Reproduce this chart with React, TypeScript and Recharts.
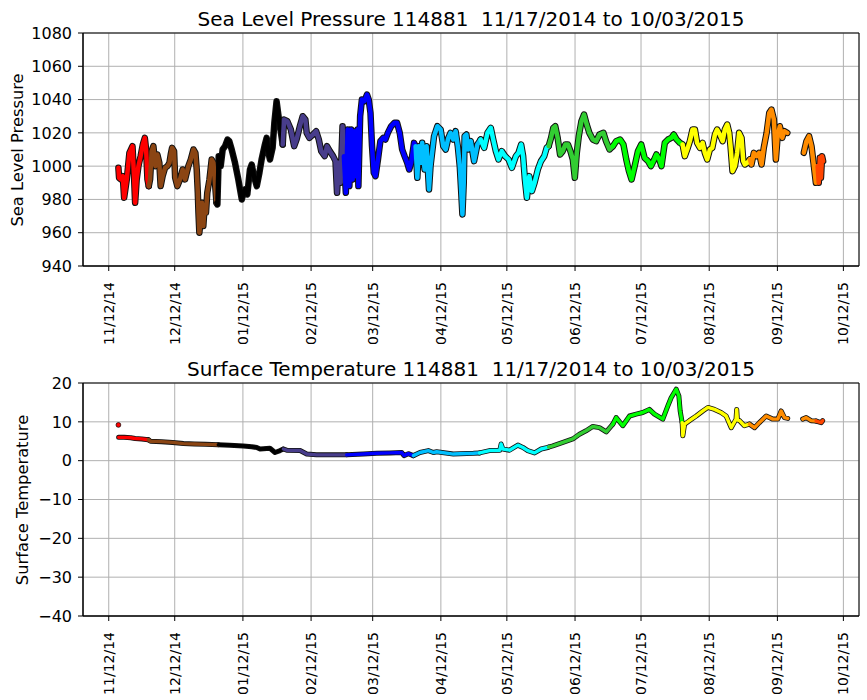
import React from "react";
import { CartesianGrid, ComposedChart, Line, ReferenceArea, Scatter, XAxis, YAxis } from "recharts";

type Pt = [number, number];

// x values are days counted from 11/01/2014
const tickDays = [11, 41, 72, 103, 131, 162, 192, 223, 253, 284, 315, 345];
const tickLabels = ["11/12/14", "12/12/14", "01/12/15", "02/12/15", "03/12/15", "04/12/15", "05/12/15", "06/12/15", "07/12/15", "08/12/15", "09/12/15", "10/12/15"];
const slpTicks = [940, 960, 980, 1000, 1020, 1040, 1060, 1080];
const tmpTicks = [-40, -30, -20, -10, 0, 10, 20];

const colors = ["#ff0000", "#8b4513", "#000000", "#483d8b", "#0000ff", "#00bfff", "#00ffff", "#32cd32", "#00ff00", "#ffff00", "#ff8c00", "#ff8c00", "#ff4500"];

// sea level pressure, hPa
const slpRed: Pt[] = [[15.4, 999], [15.7, 993], [16.5, 992], [17.4, 994], [18, 981], [19.2, 992], [20.4, 1008], [21.8, 1012], [22.5, 994], [23, 978], [23.7, 992], [24.5, 1000], [25.5, 1006], [26.5, 1013], [27.4, 1017], [28, 1010], [28.6, 992], [29.2, 988]];
const slpBrown: Pt[] = [[29.2, 988], [29.8, 992], [30.5, 1009], [31.3, 1012], [32.2, 1000], [33.1, 1007], [34, 1002], [34.6, 988], [35.5, 994], [36.6, 999], [37.7, 1000], [38.6, 1002], [39.2, 1007], [39.8, 1011], [40.7, 1009], [41.2, 993], [42.2, 988], [43.4, 992], [44.6, 998], [45.7, 992], [47.2, 1000], [48.3, 1004], [49.5, 1010], [50.4, 1008], [51, 998], [51.5, 984], [51.8, 972], [52.2, 960], [52.8, 968], [53.4, 978], [54, 964], [54.6, 976], [55.2, 972], [55.8, 984], [56.8, 992], [57.8, 1004], [58.6, 1002], [59.3, 990], [60, 978]];
const slpBlack: Pt[] = [[60, 978], [60.4, 977], [61, 1006], [61.9, 1000], [62.8, 1010], [63.9, 1012], [65, 1016], [65.8, 1015], [66.9, 1010], [68.4, 1002], [69.9, 992], [71.5, 980], [72.2, 984], [73, 986], [74, 983], [75.2, 998], [76, 1001], [77, 994], [78.3, 988], [79.5, 996], [80.5, 1004], [82, 1013], [82.8, 1017], [83.6, 1008], [84.3, 1004], [85.5, 1011], [86.3, 1026], [87.3, 1039], [88, 1032], [88.6, 1026], [89.3, 1020], [90.1, 1013]];
const slpSlate: Pt[] = [[90.1, 1013], [90.7, 1028], [92.2, 1027], [93.8, 1022], [95.3, 1012], [96.4, 1016], [97.9, 1024], [99.2, 1030], [100.4, 1028], [101, 1020], [102.2, 1017], [103.8, 1019], [105.3, 1021], [106.5, 1016], [107.6, 1009], [109.2, 1006], [110.2, 1012], [111.5, 1009], [113, 1006], [114.1, 1003], [114.8, 984], [115.5, 1002], [116.4, 990], [117.3, 1024], [117.9, 1006]];
const slpBlue: Pt[] = [[117.9, 1006], [118.8, 984], [119.6, 1022], [120.4, 988], [121.2, 1022], [121.9, 992], [122.5, 1021], [123.3, 994], [124.1, 1022], [124.5, 988], [125.3, 1030], [126.1, 1040], [127.2, 1039], [128.4, 1043], [129.2, 1040], [130, 1032], [130.7, 1012], [131.5, 996], [132.3, 994], [133.4, 1004], [134.5, 1015], [135.8, 1017], [136.8, 1016], [137.9, 1020], [139.4, 1024], [140.9, 1026], [142.1, 1026], [143.3, 1020], [144.4, 1010], [145.5, 1006], [146.7, 1002], [147.6, 998], [148.5, 1002], [149.8, 1014], [150.5, 1012]];
const slpDeepSky: Pt[] = [[150.5, 1012], [151.3, 993], [152, 1012], [152.8, 1002], [153.5, 1014], [154.6, 998], [155.5, 1012], [156.6, 986], [157.3, 1000], [158.9, 1018], [160.4, 1024], [161.9, 1022], [163.1, 1012], [164.2, 1010], [165.4, 1017], [166.4, 1020], [167.6, 1016], [168.7, 1021], [169.7, 1012], [170.6, 1000], [171.2, 986], [171.8, 971], [172.4, 990], [172.8, 1018], [173.6, 1019], [174.4, 1010], [175.6, 1015], [177.1, 1003], [178.6, 1013], [180.1, 1016]];
const slpCyan: Pt[] = [[180.1, 1016], [181.7, 1011], [183.2, 1020], [184.7, 1023], [185.8, 1016], [187, 1009], [188.2, 1004], [189.7, 1009], [191.2, 1006], [192.8, 1004], [194.3, 999], [196.1, 1006], [197.3, 1008], [198.5, 1013], [199.4, 1006], [200.2, 992], [201.1, 981], [202.2, 994], [203.4, 985], [204.6, 990], [206.1, 998], [207.5, 1003], [209, 1006], [210.1, 1011], [211, 1012]];
const slpLimeGreen: Pt[] = [[211, 1012], [212.1, 1017], [213.1, 1023], [214, 1024], [215.1, 1017], [216.2, 1007], [217.4, 1009], [218.6, 1013], [219.8, 1013], [220.9, 1009], [222, 1004], [222.9, 993], [223.8, 1008], [224.7, 1018], [225.9, 1027], [227.1, 1031], [228.3, 1025], [229.5, 1020], [231.1, 1016], [232.6, 1015], [234.1, 1019], [235.9, 1020], [237.1, 1015], [238.7, 1010], [240.2, 1012]];
const slpLime: Pt[] = [[240.2, 1012], [241.7, 1015], [243.5, 1016], [245, 1013], [246.3, 1004], [247.5, 997], [248.7, 992], [250.1, 1000], [251.6, 1009], [253.1, 1013], [254.6, 1005], [256.2, 1003], [257.5, 1000], [259, 1004], [260, 1007], [261.3, 1004], [262.3, 1000], [263.8, 1014], [265.3, 1016], [266.8, 1017], [267.9, 1019], [269.2, 1016], [270.7, 1014], [271.9, 1013]];
const slpYellow: Pt[] = [[271.9, 1013], [272.9, 1006], [274, 1010], [275.2, 1015], [276.4, 1022], [277.5, 1022], [278.5, 1014], [279.8, 1011], [281, 1014], [282, 1008], [283.1, 1004], [284.3, 1010], [285.4, 1011], [286.6, 1019], [287.6, 1022], [288.8, 1019], [290.1, 1015], [291.1, 1022], [292.2, 1025], [293.1, 1020], [293.7, 1012], [294.6, 997], [295.7, 1000], [296.7, 1008], [297.6, 1020], [298.7, 1017], [299.5, 1003], [300.2, 1001], [301.3, 1002], [302.5, 1004]];
const slpOrangeA: Pt[] = [[302.5, 1004], [303.2, 1001], [304.3, 1008], [305.5, 1006], [306.7, 1008], [307.8, 1001], [308.8, 1011], [310.1, 1020], [311.3, 1032], [312.3, 1034], [313.4, 1028], [314.3, 1004], [315.1, 1018], [316.1, 1024], [317.2, 1017], [318.1, 1021], [319.5, 1020]];
const slpOrangeB: Pt[] = [[327, 1008], [328.2, 1015], [329.4, 1018], [330.5, 1012], [331.6, 1000], [332.5, 990], [333.3, 1000]];
const slpOrangeRed: Pt[] = [[333.3, 1000], [333.8, 990], [334.3, 1005], [334.8, 993], [335.3, 1006], [335.8, 1003]];

// surface temperature, deg C
const tmpFirst: Pt[] = [[15.4, 9.2]];
const tmpRed: Pt[] = [[15.5, 6.0], [18, 6.0], [21, 5.9], [23, 5.7], [26, 5.6], [29, 5.4]];
const tmpBrown: Pt[] = [[29, 5.4], [30, 5.0], [35, 4.9], [40, 4.7], [45, 4.4], [50, 4.3], [55, 4.2], [60.8, 4.1]];
const tmpBlack: Pt[] = [[60.8, 4.1], [66, 4.0], [72.2, 3.8], [76, 3.6], [78.3, 3.4], [79.8, 3.0], [84.3, 3.2], [86.6, 2.1], [88.9, 2.6], [90.4, 3.0]];
const tmpSlate: Pt[] = [[90.4, 3.0], [91.9, 2.7], [98, 2.6], [101, 1.7], [105.5, 1.5], [113.1, 1.5], [119.2, 1.5]];
const tmpBlue: Pt[] = [[119.2, 1.5], [126.8, 1.7], [132.8, 1.9], [138.9, 2.0], [144.2, 2.1], [145.2, 1.3], [147.2, 1.8], [149.5, 1.3]];
const tmpDeepSky: Pt[] = [[149.5, 1.3], [152.5, 2.1], [156.3, 2.6], [158.6, 2.1], [160.1, 2.3], [167.7, 1.7], [176.8, 1.9], [179.6, 2.0]];
const tmpCyan: Pt[] = [[179.6, 2.0], [184.1, 2.6], [188.8, 2.7], [189.4, 4.3], [190.2, 3.0], [193.2, 2.7], [197, 4.0], [199.3, 3.4], [201.5, 2.6], [204.6, 2.0], [207.6, 3.0], [210.6, 3.4], [211, 3.5]];
const tmpLimeGreen: Pt[] = [[211, 3.5], [212.9, 3.8], [217.5, 4.7], [222, 5.6], [225, 6.8], [228, 7.7], [231.1, 8.8], [234.1, 8.5], [237.2, 7.4], [240.2, 9.4]];
const tmpLime: Pt[] = [[240.2, 9.4], [241.7, 11.1], [244.7, 9.0], [247.8, 11.5], [250.8, 12.0], [253.8, 12.4], [256.8, 13.2], [259.1, 12.0], [262.9, 10.7], [265.2, 14.1], [266.7, 16.2], [269, 18.4], [270.2, 16.7], [270.8, 12.8], [271.7, 9.8]];
const tmpYellow: Pt[] = [[271.7, 9.8], [272, 6.4], [272.8, 9.4], [275, 10.3], [278.1, 11.5], [281.1, 12.8], [283.4, 13.7], [286.4, 13.2], [289.4, 12.4], [291.7, 11.5], [294, 8.5], [296.2, 10.7], [296.5, 13.2], [296.8, 10.5], [297.8, 10.3], [300, 9.0], [302.3, 9.4]];
const tmpOrangeA: Pt[] = [[302.3, 9.4], [304.6, 8.5], [306.8, 9.8], [309.9, 11.5], [312.9, 10.7], [315.2, 10.7], [316.7, 12.8], [318.2, 11.1], [319.7, 10.9]];
const tmpOrangeB: Pt[] = [[326.5, 10.7], [328.1, 11.1], [330.3, 10.3], [332.6, 10.2]];
const tmpOrangeRed: Pt[] = [[332.6, 10.2], [334.9, 9.8], [335.6, 10.3]];

const slpSegments = [slpRed, slpBrown, slpBlack, slpSlate, slpBlue, slpDeepSky, slpCyan, slpLimeGreen, slpLime, slpYellow, slpOrangeA, slpOrangeB, slpOrangeRed];
const tmpSegments = [tmpRed, tmpBrown, tmpBlack, tmpSlate, tmpBlue, tmpDeepSky, tmpCyan, tmpLimeGreen, tmpLime, tmpYellow, tmpOrangeA, tmpOrangeB, tmpOrangeRed];

const FONT = "DejaVu Sans";
const toRows = (pts: Pt[]) => pts.map(([day, v]) => ({ day, v }));
const minus = (v: number) => (v < 0 ? `\u2212${-v}` : `${v}`);

const DateTick = (props: any) => {
  const { x, y, payload } = props;
  const i = tickDays.indexOf(payload.value);
  return (
    <text x={x} y={y} transform={`rotate(-90 ${x} ${y})`} textAnchor="end" dy="0.35em" fontSize={14} fill="#000" fontFamily={FONT}>
      {tickLabels[i]}
    </text>
  );
};

function Panel({ segments, domain, ticks, extra, width }: { segments: Pt[][]; domain: [number, number]; ticks: number[]; extra?: Pt[]; width: [number, number] }) {
  return (
    <ComposedChart width={867} height={350} margin={{ top: 33, right: 8, bottom: 4, left: 0 }}>
      <CartesianGrid stroke="#b0b0b0" strokeWidth={1} />
      <XAxis
        type="number"
        dataKey="day"
        domain={[-0.7, 352.1]}
        ticks={tickDays}
        allowDataOverflow
        height={80}
        tickSize={5}
        tickMargin={11}
        tickLine={{ stroke: "#000" }}
        axisLine={{ stroke: "#000" }}
        tick={<DateTick />}
        interval={0}
      />
      <YAxis
        type="number"
        domain={domain}
        ticks={ticks}
        allowDataOverflow
        width={83}
        tickSize={5}
        tickMargin={6}
        tickLine={{ stroke: "#000" }}
        axisLine={{ stroke: "#000" }}
        tickFormatter={minus}
        tick={{ fontSize: 16, fill: "#000", fontFamily: FONT }}
        interval={0}
      />
      <ReferenceArea x1={-0.7} x2={352.1} y1={domain[0]} y2={domain[1]} stroke="#000" strokeWidth={1} fill="none" />
      {segments.map((seg, i) => (
        <Line key={`o${i}`} data={toRows(seg)} dataKey="v" stroke="#111" strokeWidth={width[0]} strokeLinejoin="round" strokeLinecap="round" dot={false} activeDot={false} isAnimationActive={false} />
      ))}
      {segments.map((seg, i) => (
        <Line key={`c${i}`} data={toRows(seg)} dataKey="v" stroke={colors[i]} strokeWidth={width[1]} strokeLinejoin="round" strokeLinecap="round" dot={false} activeDot={false} isAnimationActive={false} />
      ))}
      {extra && (
        <Scatter
          data={toRows(extra)}
          dataKey="v"
          isAnimationActive={false}
          shape={(p: any) => <circle cx={p.cx} cy={p.cy} r={2.4} fill="#ff0000" stroke="#000" strokeWidth={0.7} />}
        />
      )}
    </ComposedChart>
  );
}

export default function App() {
  return (
    <div style={{ position: "absolute", left: 0, top: 0, width: 867, height: 700, background: "#fff", fontFamily: FONT }}>
      <div style={{ position: "absolute", left: 0, top: 0 }}>
        <Panel segments={slpSegments} domain={[940, 1080]} ticks={slpTicks} width={[6.5, 4.5]} />
      </div>
      <div style={{ position: "absolute", left: 0, top: 350 }}>
        <Panel segments={tmpSegments} domain={[-40, 20]} ticks={tmpTicks} extra={tmpFirst} width={[5, 3.4]} />
      </div>
      <svg width={867} height={700} style={{ position: "absolute", left: 0, top: 0, pointerEvents: "none" }}>
        <text x={471} y={25.5} textAnchor="middle" fontSize={20} fontFamily={FONT} fill="#000" style={{ whiteSpace: "pre" }}>
          Sea Level Pressure 114881  11/17/2014 to 10/03/2015
        </text>
        <text x={471} y={375.5} textAnchor="middle" fontSize={20} fontFamily={FONT} fill="#000" style={{ whiteSpace: "pre" }}>
          Surface Temperature 114881  11/17/2014 to 10/03/2015
        </text>
        <text transform="rotate(-90)" x={-150} y={23} textAnchor="middle" fontSize={16.3} fontFamily={FONT} fill="#000">
          Sea Level Pressure
        </text>
        <text transform="rotate(-90)" x={-500} y={28} textAnchor="middle" fontSize={16.3} fontFamily={FONT} fill="#000">
          Surface Temperature
        </text>
      </svg>
    </div>
  );
}
